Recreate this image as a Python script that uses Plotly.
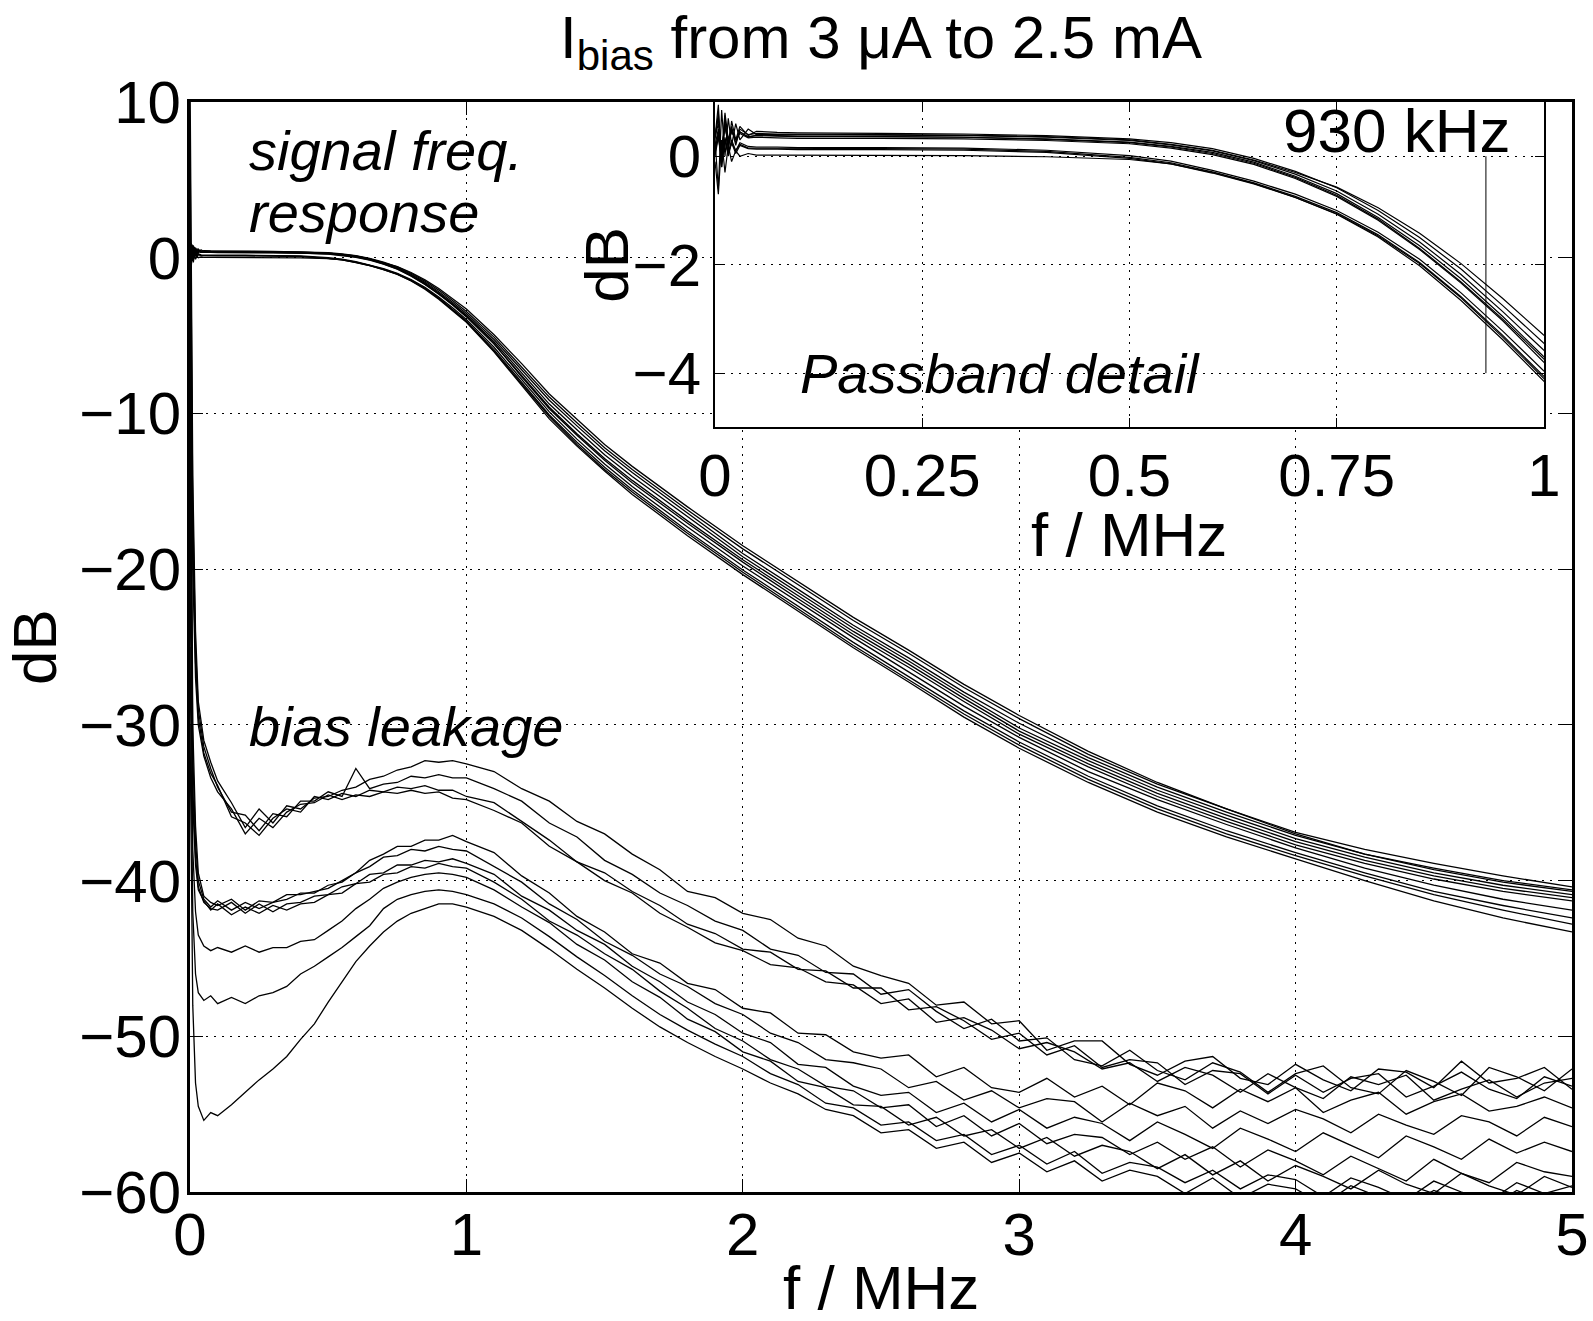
import plotly.graph_objects as go

# ---------------- data ----------------
# frequency grid of the signal-response traces (MHz)
f_sig = [0.000, 0.004, 0.008, 0.012, 0.016, 0.020, 0.025, 0.030, 0.040, 0.050,
         0.075, 0.10, 0.20, 0.30, 0.40, 0.50, 0.55, 0.60, 0.65, 0.70,
         0.75, 0.80, 0.85, 0.90, 0.95, 1.00, 1.10, 1.20, 1.30, 1.40,
         1.50, 1.60, 1.80, 2.00, 2.20, 2.40, 2.60, 2.80, 3.00, 3.25,
         3.50, 3.75, 4.00, 4.25, 4.50, 4.75, 5.00]

sig_1 = [0.35, 0.95, -0.2, 0.75, 0.1, 0.65, 0.3, 0.55, 0.38, 0.46,
         0.44, 0.43, 0.42, 0.41, 0.38, 0.32, 0.25, 0.14, -0.04, -0.28,
         -0.58, -1.0, -1.5, -2.08, -2.75, -3.45, -5.1, -7.0, -8.95, -10.6,
         -12.2, -13.6, -16.2, -18.7, -21.0, -23.3, -25.4, -27.6, -29.6, -31.9,
         -33.8, -35.4, -36.9, -38.0, -38.9, -39.7, -40.4]
sig_2 = [0.3, -0.6, 0.85, 0.0, 0.7, 0.2, 0.6, 0.3, 0.5, 0.40,
         0.40, 0.40, 0.39, 0.38, 0.35, 0.29, 0.21, 0.10, -0.08, -0.33,
         -0.64, -1.07, -1.58, -2.18, -2.86, -3.58, -5.25, -7.2, -9.15, -10.8,
         -12.4, -13.8, -16.4, -19.0, -21.3, -23.6, -25.7, -27.9, -29.9, -32.1,
         -34.0, -35.6, -37.1, -38.3, -39.2, -40.0, -40.6]
sig_3 = [0.4, 0.7, 0.1, 0.6, 0.2, 0.5, 0.3, 0.45, 0.36, 0.38,
         0.37, 0.36, 0.36, 0.35, 0.32, 0.26, 0.18, 0.07, -0.11, -0.37,
         -0.69, -1.13, -1.65, -2.26, -2.95, -3.70, -5.4, -7.4, -9.4, -11.05,
         -12.65, -14.05, -16.65, -19.2, -21.5, -23.8, -25.9, -28.1, -30.2, -32.3,
         -34.2, -35.8, -37.3, -38.5, -39.5, -40.3, -40.9]
sig_4 = [0.2, 0.5, 0.15, 0.55, 0.25, 0.45, 0.3, 0.42, 0.34, 0.35,
         0.34, 0.33, 0.33, 0.32, 0.29, 0.23, 0.15, 0.03, -0.15, -0.41,
         -0.74, -1.18, -1.72, -2.34, -3.03, -3.80, -5.55, -7.6, -9.6, -11.3,
         -12.9, -14.3, -16.9, -19.4, -21.7, -24.0, -26.1, -28.3, -30.4, -32.5,
         -34.4, -36.0, -37.5, -38.7, -39.7, -40.5, -41.1]
sig_5 = [0.3, 0.8, -0.1, 0.6, 0.15, 0.5, 0.25, 0.45, 0.35, 0.39,
         0.38, 0.37, 0.36, 0.35, 0.31, 0.25, 0.17, 0.05, -0.13, -0.39,
         -0.72, -1.16, -1.70, -2.32, -3.00, -3.74, -5.5, -7.65, -9.7, -11.4,
         -13.0, -14.45, -17.05, -19.55, -21.9, -24.2, -26.3, -28.5, -30.6, -32.7,
         -34.6, -36.2, -37.7, -38.9, -39.9, -40.7, -41.3]
sig_6 = [0.1, 0.45, -0.1, 0.35, 0.05, 0.3, 0.1, 0.25, 0.18, 0.17,
         0.17, 0.16, 0.16, 0.15, 0.11, 0.01, -0.09, -0.26, -0.46, -0.70,
         -1.00, -1.40, -1.90, -2.52, -3.22, -3.96, -5.75, -7.85, -9.9, -11.65,
         -13.25, -14.7, -17.3, -19.8, -22.1, -24.4, -26.6, -28.8, -30.8, -33.0,
         -34.8, -36.4, -37.9, -39.2, -40.3, -41.2, -41.9]
sig_7 = [0.0, 0.35, -0.05, 0.3, 0.05, 0.25, 0.1, 0.22, 0.15, 0.15,
         0.15, 0.14, 0.14, 0.13, 0.09, -0.02, -0.12, -0.29, -0.49, -0.74,
         -1.04, -1.45, -1.96, -2.59, -3.30, -4.06, -5.9, -8.0, -10.1, -11.85,
         -13.45, -14.9, -17.55, -20.05, -22.4, -24.7, -26.9, -29.1, -31.1, -33.3,
         -35.2, -36.8, -38.2, -39.5, -40.7, -41.6, -42.4]
sig_8 = [-0.1, -0.7, 0.3, -0.3, 0.2, -0.1, 0.1, 0.0, 0.05, 0.02,
         0.02, 0.02, 0.02, 0.01, -0.01, -0.06, -0.14, -0.30, -0.50, -0.76,
         -1.07, -1.49, -2.02, -2.66, -3.38, -4.15, -6.05, -8.2, -10.35, -12.1,
         -13.7, -15.2, -17.85, -20.35, -22.7, -25.05, -27.25, -29.5, -31.5, -33.7,
         -35.6, -37.2, -38.6, -40.0, -41.3, -42.4, -43.3]
sig_9 = [0.35, 0.6, 0.05, 0.8, 0.3, 0.55, 0.2, 0.5, 0.4, 0.42,
         0.41, 0.41, 0.40, 0.39, 0.36, 0.30, 0.22, 0.11, -0.07, -0.30,
         -0.57, -0.95, -1.42, -1.98, -2.62, -3.30, -4.95, -6.8, -8.75, -10.4,
         -12.0, -13.4, -16.0, -18.5, -20.8, -23.1, -25.2, -27.4, -29.4, -31.7,
         -33.7, -35.4, -37.0, -38.3, -39.3, -40.1, -40.7]
sig_10 = [0.05, 0.4, -0.2, 0.3, 0.0, 0.25, 0.05, 0.2, 0.14, 0.13,
          0.13, 0.12, 0.12, 0.11, 0.07, -0.04, -0.14, -0.31, -0.51, -0.76,
          -1.06, -1.47, -1.98, -2.61, -3.33, -4.10, -6.0, -8.1, -10.2, -12.0,
          -13.6, -15.05, -17.7, -20.2, -22.55, -24.9, -27.1, -29.3, -31.3, -33.5,
          -35.4, -37.0, -38.4, -39.7, -40.9, -41.9, -42.8]

# frequency grid of the bias-leakage traces (MHz)
f_bias = [0.0, 0.01, 0.02, 0.03, 0.05, 0.075, 0.10, 0.15, 0.20, 0.25,
          0.30, 0.35, 0.40, 0.45, 0.50, 0.55, 0.60, 0.65, 0.70, 0.75,
          0.80, 0.85, 0.90, 0.95, 1.00, 1.1, 1.2, 1.3, 1.4, 1.5,
          1.6, 1.7, 1.8, 1.9, 2.0, 2.1, 2.2, 2.3, 2.4, 2.5,
          2.6, 2.7, 2.8, 2.9, 3.0, 3.1, 3.2, 3.3, 3.4, 3.5,
          3.6, 3.7, 3.8, 3.9, 4.0, 4.1, 4.2, 4.3, 4.4, 4.5,
          4.6, 4.7, 4.8, 4.9, 5.0]

bias_a1 = [12, -14, -24, -28.5, -31.0, -32.4, -33.6, -35.0, -36.6, -35.4,
           -36.3, -35.2, -35.4, -34.7, -34.6, -34.2, -34.0, -33.5, -33.3, -32.9,
           -32.7, -32.3, -32.4, -32.3, -32.5, -33.0, -34.1, -34.9, -36.2, -37.0,
           -38.3, -39.3, -40.7, -41.1, -42.1, -42.5, -43.7, -44.2, -45.5, -46.1,
           -46.6, -48.0, -47.8, -49.2, -49.0, -50.9, -50.3, -50.3, -51.8, -52.5,
           -51.6, -51.3, -52.7, -53.1, -51.8, -52.8, -53.5, -52.1, -52.3, -53.3,
           -51.6, -53.0, -52.7, -52.0, -53.4]
bias_a2 = [8, -16, -25, -29, -31.4, -32.8, -34.0, -35.6, -35.8, -36.8,
           -35.7, -35.9, -34.9, -34.9, -34.3, -34.6, -32.8, -34.1, -33.8, -33.7,
           -33.3, -33.4, -33.2, -33.4, -33.4, -34.1, -34.9, -36.3, -37.2, -38.7,
           -39.6, -40.8, -41.6, -42.6, -43.2, -44.4, -44.8, -45.9, -46.0, -47.3,
           -47.0, -48.4, -49.5, -48.9, -50.3, -50.1, -51.5, -51.9, -50.9, -52.2,
           -52.8, -51.7, -52.3, -53.6, -52.4, -51.9, -53.3, -53.7, -52.2, -52.9,
           -53.8, -52.0, -52.6, -53.5, -52.1]
bias_a3 = [5, -18, -26, -29.5, -31.8, -33.1, -33.9, -35.9, -36.3, -37.1,
           -36.0, -35.4, -35.6, -34.6, -34.8, -34.4, -34.6, -34.2, -34.3, -34.0,
           -34.1, -33.9, -34.2, -34.2, -34.6, -35.0, -36.2, -37.4, -38.8, -39.5,
           -40.7, -41.6, -42.8, -43.4, -44.4, -44.6, -45.7, -45.8, -46.9, -46.9,
           -48.3, -48.1, -49.0, -50.2, -49.8, -51.2, -50.6, -52.0, -51.5, -51.7,
           -53.1, -52.2, -52.4, -53.7, -52.5, -53.6, -52.7, -52.4, -53.9, -53.2,
           -52.3, -53.4, -54.0, -52.6, -53.2]
bias_a4 = [3, -20, -27, -30, -32.0, -33.4, -34.3, -35.4, -37.0, -36.0,
           -36.6, -35.6, -35.1, -35.0, -34.5, -34.8, -34.5, -34.6, -34.3, -34.4,
           -34.2, -34.4, -34.3, -34.7, -34.8, -35.5, -36.3, -37.8, -38.8, -40.0,
           -40.8, -42.1, -43.0, -44.0, -44.5, -45.4, -45.6, -46.5, -46.7, -47.9,
           -47.6, -49.1, -48.8, -49.6, -50.8, -50.4, -51.0, -52.1, -51.7, -52.9,
           -52.0, -52.5, -53.6, -52.4, -53.3, -54.0, -52.6, -53.1, -52.5, -54.1,
           -53.4, -52.8, -53.9, -53.0, -52.7]
bias_b1 = [2, -30, -36.5, -39.5, -41.0, -41.4, -41.6, -41.2, -41.9, -41.3,
           -41.4, -40.9, -40.9, -40.7, -40.5, -40.0, -39.5, -38.7, -38.3, -37.8,
           -37.8, -37.4, -37.4, -37.1, -37.5, -38.2, -39.7, -40.8, -42.3, -43.3,
           -44.7, -45.3, -46.6, -47.0, -48.2, -48.5, -49.8, -49.9, -51.0, -51.4,
           -51.2, -52.6, -52.0, -53.3, -53.6, -52.7, -53.9, -53.2, -54.4, -53.0,
           -53.5, -54.6, -53.4, -54.2, -53.3, -54.9, -54.1, -53.6, -55.0, -54.2,
           -53.7, -54.8, -54.5, -53.9, -54.6]
bias_b2 = [-5, -32, -37.5, -40.0, -41.2, -41.7, -41.3, -41.9, -41.4, -41.8,
           -41.4, -41.2, -40.8, -40.8, -40.3, -40.1, -39.5, -39.1, -38.5, -38.4,
           -38.0, -38.1, -37.8, -38.0, -38.1, -39.1, -40.1, -41.5, -42.5, -43.9,
           -44.8, -46.0, -46.8, -47.9, -48.6, -49.8, -50.4, -51.5, -51.7, -52.1,
           -53.3, -52.9, -54.1, -53.5, -54.6, -54.0, -54.2, -55.5, -54.3, -55.1,
           -54.5, -55.9, -54.8, -55.6, -54.7, -55.3, -56.2, -55.0, -55.7, -56.3,
           -55.1, -55.5, -56.4, -55.2, -55.8]
bias_b3 = [-10, -34, -38.5, -40.4, -41.4, -41.8, -41.9, -41.4, -42.1, -41.5,
           -42.0, -41.5, -41.4, -41.0, -40.9, -40.4, -40.2, -39.6, -39.5, -39.0,
           -39.0, -38.7, -38.8, -38.6, -38.9, -39.6, -41.0, -41.9, -43.2, -44.1,
           -45.5, -46.5, -47.8, -48.6, -49.8, -50.4, -51.8, -52.0, -53.2, -53.8,
           -53.6, -54.9, -54.3, -55.5, -54.7, -55.9, -55.2, -55.6, -56.7, -55.5,
           -56.3, -57.2, -55.9, -56.6, -57.4, -56.2, -57.0, -57.8, -56.4, -57.1,
           -57.9, -56.6, -57.5, -56.8, -57.4]
bias_b4 = [-15, -35, -39.0, -40.6, -41.3, -41.9, -41.5, -42.2, -41.7, -42.1,
           -41.6, -41.9, -41.5, -41.4, -40.9, -40.8, -40.2, -40.1, -39.6, -39.5,
           -39.1, -39.2, -38.9, -39.1, -39.2, -40.1, -41.2, -42.6, -43.5, -44.7,
           -45.7, -47.1, -48.2, -49.5, -50.3, -51.5, -52.1, -53.2, -53.5, -54.6,
           -54.4, -55.8, -55.1, -56.4, -55.6, -56.9, -56.3, -56.5, -57.6, -56.8,
           -57.9, -57.1, -58.4, -57.3, -58.0, -58.9, -57.7, -58.5, -59.3, -57.9,
           -58.8, -59.4, -58.1, -58.7, -59.0]
bias_c1 = [-20, -38, -42.0, -43.5, -44.2, -44.5, -44.3, -44.6, -44.2, -44.6,
           -44.3, -44.3, -43.9, -43.8, -43.2, -42.6, -41.8, -41.2, -40.5, -40.1,
           -39.8, -39.6, -39.5, -39.6, -39.8, -40.6, -41.7, -42.7, -44.1, -45.1,
           -46.5, -47.5, -48.9, -49.7, -51.0, -51.6, -52.9, -53.3, -54.4, -54.5,
           -55.7, -55.2, -56.4, -56.0, -57.2, -56.5, -57.7, -57.0, -57.4, -58.5,
           -57.6, -58.9, -58.0, -59.3, -58.3, -59.0, -59.8, -58.6, -59.5, -60.1,
           -58.8, -59.6, -60.2, -59.0, -59.7]
bias_c2 = [-25, -42, -46.0, -47.2, -47.7, -47.4, -47.9, -47.5, -47.9, -47.4,
           -47.2, -46.8, -46.0, -45.5, -44.9, -44.3, -43.6, -42.9, -41.8, -41.2,
           -40.9, -40.7, -40.6, -40.7, -40.9, -41.5, -42.4, -43.6, -44.9, -46.1,
           -47.4, -48.6, -49.6, -50.5, -51.3, -52.4, -53.1, -54.3, -54.6, -55.7,
           -55.5, -56.7, -56.3, -57.6, -57.0, -58.2, -57.4, -58.8, -58.1, -58.4,
           -59.4, -58.6, -59.8, -58.9, -59.2, -60.3, -59.1, -59.7, -60.5, -59.3,
           -60.0, -60.6, -59.4, -60.1, -59.6]
bias_c3 = [-30, -48, -53.0, -54.5, -55.4, -54.9, -55.1, -54.4, -53.6, -52.8,
           -52.1, -51.3, -50.2, -49.2, -47.8, -46.5, -45.2, -44.2, -43.3, -42.6,
           -42.1, -41.8, -41.5, -41.5, -41.7, -42.3, -43.2, -44.4, -45.7, -46.9,
           -48.2, -49.4, -50.4, -51.3, -52.1, -53.0, -53.7, -54.7, -55.1, -56.2,
           -56.0, -57.2, -56.8, -58.1, -57.5, -58.7, -58.0, -59.3, -58.6, -59.0,
           -60.1, -59.1, -60.4, -59.5, -59.8, -60.8, -59.6, -60.3, -60.9, -59.9,
           -60.5, -61.0, -59.9, -60.6, -60.1]

sig_curves = [sig_1, sig_2, sig_3, sig_4, sig_5, sig_6, sig_7, sig_8, sig_9, sig_10]
bias_curves = [bias_a1, bias_a2, bias_a3, bias_a4, bias_b1, bias_b2, bias_b3,
               bias_b4, bias_c1, bias_c2, bias_c3]

# axes / ticks
main_xrange = [0, 5]
main_yrange = [-60, 10]
main_xticks = [0, 1, 2, 3, 4, 5]
main_xticktext = ["0", "1", "2", "3", "4", "5"]
main_yticks = [10, 0, -10, -20, -30, -40, -50, -60]
main_yticktext = ["10", "0", "\u221210", "\u221220", "\u221230", "\u221240", "\u221250", "\u221260"]
inset_xrange = [0, 1]
inset_yrange = [-5, 1]
inset_xticks = [0, 0.25, 0.5, 0.75, 1]
inset_xticktext = ["0", "0.25", "0.5", "0.75", "1"]
inset_yticks = [0, -2, -4]
inset_yticktext = ["0", "\u22122", "\u22124"]
marker_f = 0.93            # 930 kHz marker (MHz)
marker_db = [0, -4]        # vertical extent of the marker (dB)

# ---------------- figure ----------------
W, H = 1593, 1321
ML, MR, MT, MB = 190, 21, 102, 129
FONT = "Liberation Sans, Arial, Helvetica, sans-serif"
FS_TICK = 60
FS_TITLE = 62
FS_NOTE = 56
inset_xdom = [0.3799, 0.9797]
inset_ydom = [0.7015, 1.0]

fig = go.Figure()
curve_line = dict(color="black", width=1.3)

for ys in sig_curves:
    fig.add_trace(go.Scatter(x=f_sig, y=ys, mode="lines", line=curve_line,
                             xaxis="x", yaxis="y", hoverinfo="skip"))
for ys in bias_curves:
    fig.add_trace(go.Scatter(x=f_bias, y=ys, mode="lines", line=curve_line,
                             xaxis="x", yaxis="y", hoverinfo="skip"))

# white panel under the inset (hides the main grid there)
bx0 = main_xrange[0] + inset_xdom[0] * (main_xrange[1] - main_xrange[0])
bx1 = main_xrange[0] + inset_xdom[1] * (main_xrange[1] - main_xrange[0])
by0 = main_yrange[0] + inset_ydom[0] * (main_yrange[1] - main_yrange[0])
by1 = main_yrange[0] + inset_ydom[1] * (main_yrange[1] - main_yrange[0])
fig.add_trace(go.Scatter(x=[bx0, bx1, bx1, bx0, bx0], y=[by0, by0, by1, by1, by0],
                         mode="lines", fill="toself", fillcolor="white",
                         line=dict(width=0, color="white"), xaxis="x", yaxis="y",
                         hoverinfo="skip"))

for ys in sig_curves:
    fig.add_trace(go.Scatter(x=f_sig, y=ys, mode="lines", line=dict(color="black", width=1.2),
                             xaxis="x2", yaxis="y2", hoverinfo="skip"))
fig.add_trace(go.Scatter(x=[marker_f, marker_f], y=marker_db, mode="lines",
                         line=dict(color="black", width=1), xaxis="x2", yaxis="y2",
                         hoverinfo="skip"))

grid = dict(showgrid=True, gridcolor="black", gridwidth=1, griddash="1.5px,6.5px")
tfont = dict(family=FONT, size=FS_TICK, color="black")
afont = dict(family=FONT, size=FS_TITLE, color="black")
nfont = dict(family=FONT, size=FS_NOTE, color="black")

inset_xc = (inset_xdom[0] + inset_xdom[1]) / 2
inset_yc = (inset_ydom[0] + inset_ydom[1]) / 2

fig.update_layout(
    width=W, height=H, margin=dict(l=ML, r=MR, t=MT, b=MB, pad=0, autoexpand=False),
    paper_bgcolor="white", plot_bgcolor="white", showlegend=False,
    font=dict(family=FONT, size=FS_TICK, color="black"),
    title=dict(text="I<sub style=\"font-size:48px\">bias</sub> from 3 \u03bcA to 2.5 mA",
               x=0.5, xref="paper", xanchor="center", y=0.988, yref="container",
               yanchor="top", font=dict(family=FONT, size=60, color="black")),
    xaxis=dict(domain=[0, 1], range=main_xrange, tickvals=main_xticks, ticktext=main_xticktext,
               ticks="inside", ticklen=13, tickwidth=1.2, tickcolor="black",
               showline=True, linewidth=3, linecolor="black", mirror="ticks",
               zeroline=False, tickfont=tfont, anchor="y", automargin=False,
               ticklabelstandoff=-12, **grid),
    yaxis=dict(domain=[0, 1], range=main_yrange, tickvals=main_yticks, ticktext=main_yticktext,
               ticks="inside", ticklen=13, tickwidth=1.2, tickcolor="black",
               showline=True, linewidth=3, linecolor="black", mirror="ticks",
               zeroline=False, tickfont=tfont, anchor="x", ticklabelstandoff=-6,
               automargin=False,
               title=dict(text="dB", standoff=16, font=afont), **grid),
    xaxis2=dict(domain=inset_xdom, range=inset_xrange, tickvals=inset_xticks,
                ticktext=inset_xticktext, ticks="inside", ticklen=9, tickwidth=1,
                tickcolor="black", showline=True, linewidth=2, linecolor="black",
                mirror="ticks", zeroline=False, tickfont=tfont, anchor="y2",
                automargin=False, ticklabelstandoff=-5, **grid),
    yaxis2=dict(domain=inset_ydom, range=inset_yrange, tickvals=inset_yticks,
                ticktext=inset_yticktext, ticks="inside", ticklen=9, tickwidth=1,
                tickcolor="black", showline=True, linewidth=2, linecolor="black",
                mirror="ticks", zeroline=False, tickfont=tfont, anchor="x2",
                automargin=False, **grid),
    annotations=[
        dict(text="<i>signal freq.</i>", x=0.206, y=6.9, xref="x", yref="y",
             xanchor="left", yanchor="middle", showarrow=False, font=nfont),
        dict(text="<i>response</i>", x=0.206, y=2.9, xref="x", yref="y",
             xanchor="left", yanchor="middle", showarrow=False, font=nfont),
        dict(text="<i>bias leakage</i>", x=0.206, y=-30.1, xref="x", yref="y",
             xanchor="left", yanchor="middle", showarrow=False, font=nfont),
        dict(text="<i>Passband detail</i>", x=0.10, y=-4.0, xref="x2", yref="y2",
             xanchor="left", yanchor="middle", showarrow=False, font=nfont),
        dict(text="930 kHz", x=0.962, y=0.47, xref="x2", yref="y2",
             xanchor="right", yanchor="middle", showarrow=False, font=afont),
        # main x-axis title
        dict(text="f / MHz", x=0.5, y=-0.0872, xref="paper", yref="paper",
             xanchor="center", yanchor="middle", showarrow=False, font=afont),
        # inset axis titles
        dict(text="f / MHz", x=inset_xc, y=0.6036, xref="paper", yref="paper",
             xanchor="center", yanchor="middle", showarrow=False, font=afont),
        dict(text="dB", x=0.3017, y=inset_yc, xref="paper", yref="paper",
             xanchor="center", yanchor="middle", textangle=-90, showarrow=False,
             font=afont),
    ],
)

fig.write_html("out.html", config={"displayModeBar": False},
               post_script="document.body.style.margin='0';document.body.style.overflow='hidden';")
